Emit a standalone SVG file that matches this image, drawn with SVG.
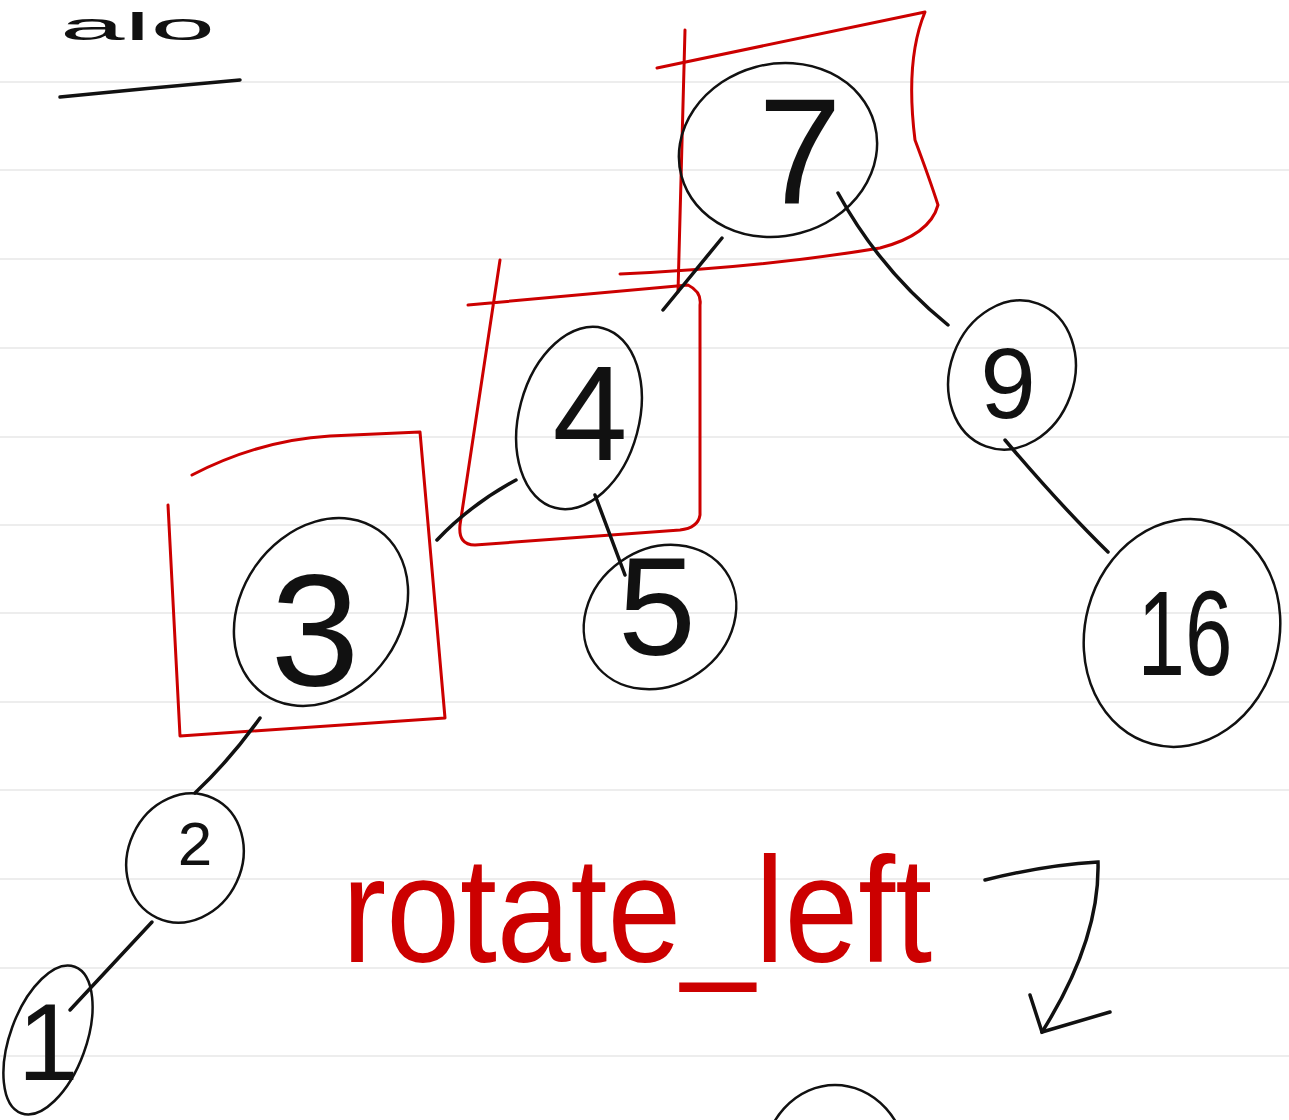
<svg xmlns="http://www.w3.org/2000/svg" width="1289" height="1120" viewBox="0 0 1289 1120">
<style>
.rule{stroke:#ededed;stroke-width:2;fill:none}
.node ellipse{fill:none;stroke:#111;stroke-width:2.5}
.num{font-family:"Liberation Sans",Arial,sans-serif;fill:#111;text-anchor:middle}
.edge{fill:none;stroke:#111;stroke-width:3.5;stroke-linecap:round}
.mark{fill:none;stroke:#cc0000;stroke-width:3;stroke-linecap:round;stroke-linejoin:round}
.red{font-family:"Liberation Sans",Arial,sans-serif;fill:#cc0000}
</style>
<rect width="1289" height="1120" fill="#fff"/>
<g id="rules">
<line class="rule" x1="0" y1="82" x2="1289" y2="82"/>
<line class="rule" x1="0" y1="170" x2="1289" y2="170"/>
<line class="rule" x1="0" y1="259" x2="1289" y2="259"/>
<line class="rule" x1="0" y1="348" x2="1289" y2="348"/>
<line class="rule" x1="0" y1="437" x2="1289" y2="437"/>
<line class="rule" x1="0" y1="525" x2="1289" y2="525"/>
<line class="rule" x1="0" y1="613" x2="1289" y2="613"/>
<line class="rule" x1="0" y1="702" x2="1289" y2="702"/>
<line class="rule" x1="0" y1="790" x2="1289" y2="790"/>
<line class="rule" x1="0" y1="879" x2="1289" y2="879"/>
<line class="rule" x1="0" y1="968" x2="1289" y2="968"/>
<line class="rule" x1="0" y1="1056" x2="1289" y2="1056"/>
</g>
<g id="title">
<text x="60" y="40" font-size="38" class="num" style="text-anchor:start" textLength="155" lengthAdjust="spacingAndGlyphs">alo</text>
<path class="edge" d="M60 97 Q150 88 240 80"/>
</g>
<g id="highlights">
<path class="mark" d="M657 68 L925 12 Q905 60 915 140 Q930 180 938 205 Q930 235 880 248 Q760 268 620 274"/>
<path class="mark" d="M685 30 L678 292"/>
<path class="mark" d="M468 305 L688 285 Q702 292 700 305 L700 515 Q698 528 680 530 L475 545 Q458 545 460 525 L500 260"/>
<path class="mark" d="M192 475 Q260 440 330 436 L420 432 L445 718 L180 736 L168 505"/>
</g>
<g id="connectors">
<path class="edge" d="M722 238 L663 310"/>
<path class="edge" d="M838 193 Q880 270 948 325"/>
<path class="edge" d="M516 480 Q470 505 437 540"/>
<path class="edge" d="M595 495 L625 575"/>
<path class="edge" d="M1005 440 Q1060 505 1108 552"/>
<path class="edge" d="M260 718 Q230 760 195 793"/>
<path class="edge" d="M152 922 L70 1010"/>
<path class="edge" d="M985 880 Q1045 865 1098 862 Q1100 940 1042 1032"/>
<path class="edge" d="M1030 995 L1042 1032 L1110 1012"/>
</g>
<g id="node-7" class="node">
<ellipse cx="778" cy="150" rx="100" ry="86" transform="rotate(-15 778 150)"/>
<text class="num" x="800" y="203" font-size="150">7</text>
</g>
<g id="node-4" class="node">
<ellipse cx="579" cy="418" rx="60" ry="93" transform="rotate(15 579 418)"/>
<text class="num" x="590" y="460" font-size="135">4</text>
</g>
<g id="node-3" class="node">
<ellipse cx="321" cy="612" rx="80" ry="100" transform="rotate(35 321 612)"/>
<text class="num" x="315" y="685" font-size="160">3</text>
</g>
<g id="node-5" class="node">
<ellipse cx="660" cy="617" rx="80" ry="68" transform="rotate(-35 660 617)"/>
<text class="num" x="657" y="655" font-size="140">5</text>
</g>
<g id="node-9" class="node">
<ellipse cx="1012" cy="375" rx="62" ry="76" transform="rotate(20 1012 375)"/>
<text class="num" x="1008" y="418" font-size="100">9</text>
</g>
<g id="node-16" class="node">
<ellipse cx="1182" cy="633" rx="97" ry="115" transform="rotate(15 1182 633)"/>
<text class="num" x="1185" y="675" font-size="120" textLength="95" lengthAdjust="spacingAndGlyphs">16</text>
</g>
<g id="node-2" class="node">
<ellipse cx="185" cy="858" rx="57" ry="66" transform="rotate(25 185 858)"/>
<text class="num" x="195" y="865" font-size="62">2</text>
</g>
<g id="node-1" class="node">
<ellipse cx="48" cy="1040" rx="38" ry="78" transform="rotate(20 48 1040)"/>
<text class="num" x="48" y="1080" font-size="110">1</text>
</g>
<g id="node-partial" class="node">
<ellipse cx="835" cy="1165" rx="72" ry="80"/>
</g>
<g id="label">
<text class="red" x="342" y="962" font-size="150" textLength="590" lengthAdjust="spacingAndGlyphs">rotate_left</text>
</g>
</svg>
